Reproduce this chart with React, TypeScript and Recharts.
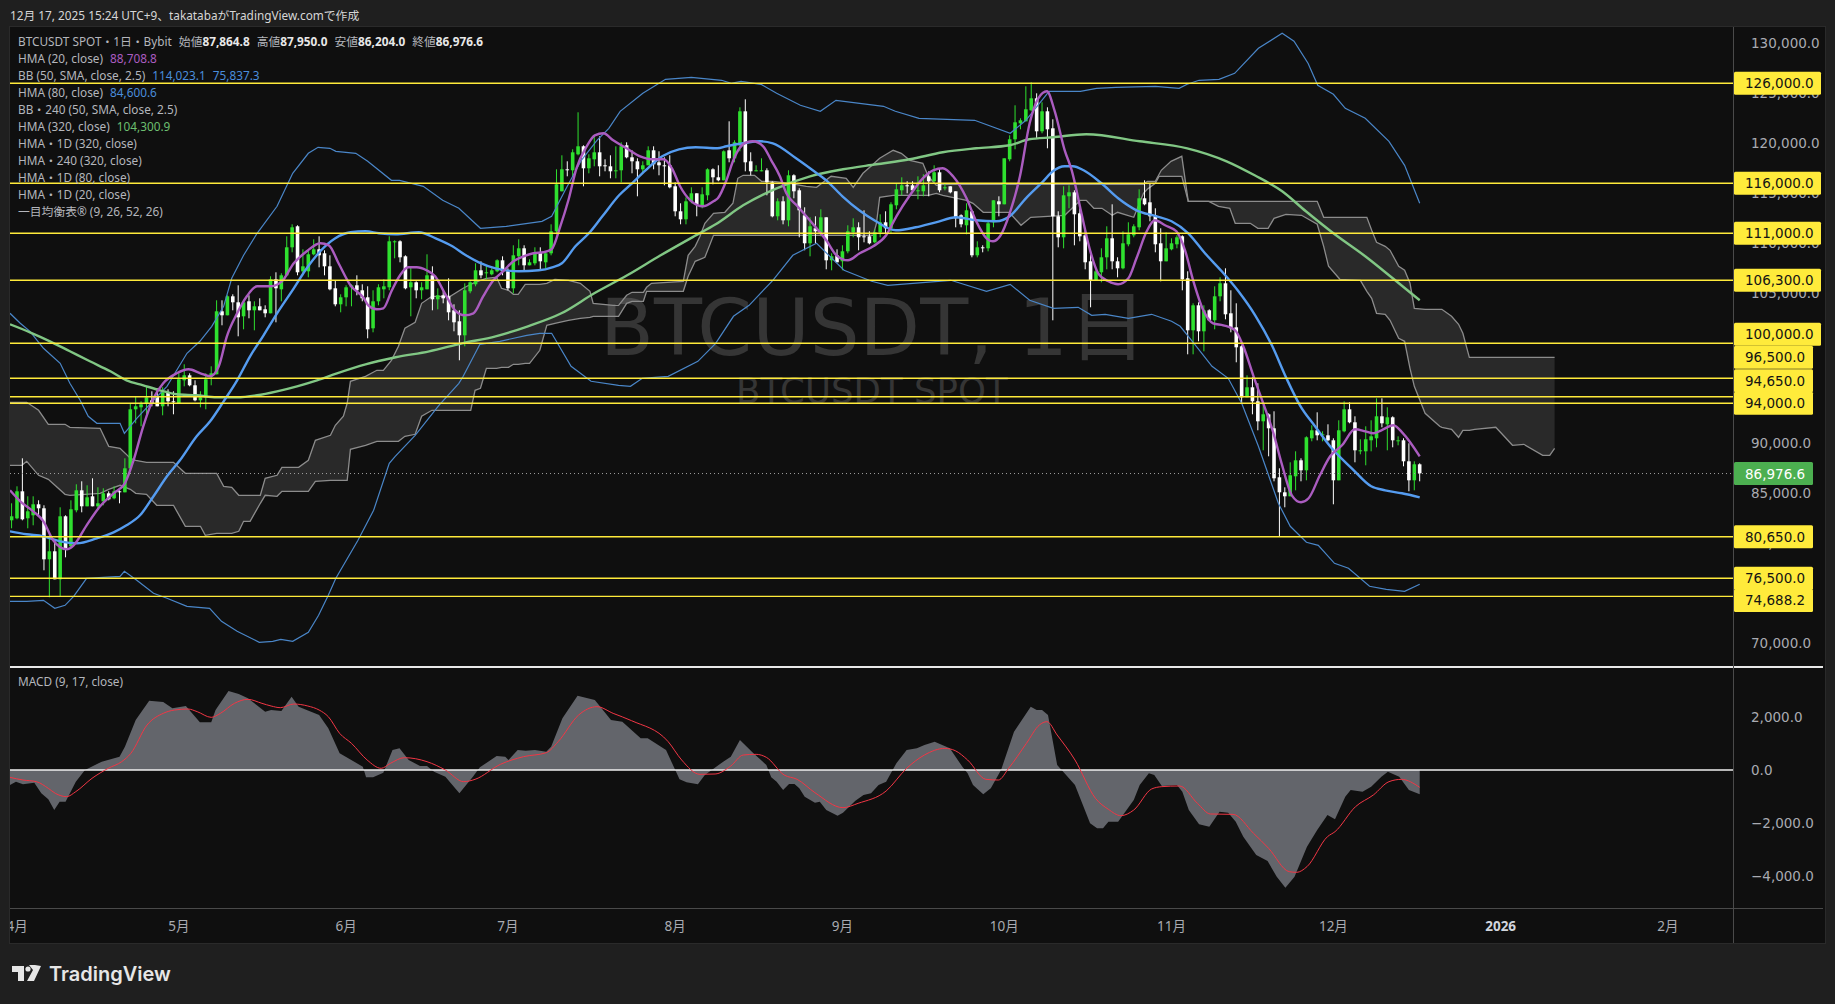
import { Area, Bar, ComposedChart, Line, ReferenceLine, XAxis, YAxis } from "recharts"

// candles in thousands of USDT, first candle is Mar 31 (day -1, Apr 1 = day 0)
const firstDay = -1
const opens = [82.3,
  82.5, 85.2, 82.5, 82.8, 83.9, 83.5, 78.4, 79.2, 76.4, 82.7,
  79.7, 83.3, 85.3, 83.7, 84.7, 83.7, 84.2, 85.0, 84.5, 85.2,
  85.1, 87.5, 93.4, 93.6, 94.0, 94.3, 94.7, 93.7, 95.1, 94.2,
  94.0, 96.3, 96.8, 95.8, 94.3, 94.6, 96.8, 96.9, 103.2, 102.8,
  104.7, 104.1, 102.7, 104.2, 103.3, 103.7, 103.4, 103.0, 106.4, 105.4,
  106.8, 109.6, 111.7, 107.2, 107.2, 108.9, 109.4, 109.0, 107.7, 105.5,
  103.9, 104.6, 105.6, 105.8, 105.3, 104.6, 101.5, 104.2, 105.4, 105.6,
  110.1, 110.2, 108.7, 105.6, 106.1, 105.3, 105.4, 106.8, 104.4, 104.8,
  104.7, 103.3, 102.2, 100.8, 105.2, 105.9, 107.3, 107.0, 106.9, 107.2,
  108.3, 107.2, 105.5, 108.7, 109.5, 107.8, 108.0, 109.1, 108.1, 109.0,
  111.2, 115.2, 117.4, 117.3, 118.9, 119.7, 117.5, 118.4, 119.1, 117.8,
  117.7, 117.2, 117.3, 119.8, 118.6, 118.2, 117.4, 117.8, 119.3, 118.1,
  117.8, 117.8, 115.7, 113.2, 112.4, 114.2, 115.0, 113.8, 114.8, 117.4,
  116.6, 116.3, 119.3, 118.5, 119.8, 123.2, 118.2, 117.2, 117.3, 117.3,
  116.1, 112.7, 114.2, 112.3, 116.8, 115.3, 112.8, 110.0, 111.5, 111.1,
  112.6, 108.3, 108.8, 108.2, 109.2, 111.1, 111.6, 110.7, 110.7, 110.1,
  111.1, 112.1, 111.5, 113.8, 115.3, 115.8, 115.8, 115.2, 115.2, 116.7,
  116.2, 117.1, 115.5, 115.7, 115.2, 112.8, 111.8, 113.2, 108.8, 109.6,
  109.5, 112.1, 114.2, 113.9, 118.4, 120.4, 122.0, 122.2, 123.3, 124.5,
  121.2, 123.2, 121.5, 112.7, 110.6, 114.7, 115.1, 113.0, 110.8, 108.2,
  106.3, 107.1, 108.6, 110.5, 108.2, 107.5, 109.9, 110.8, 111.6, 114.5,
  114.1, 112.8, 110.0, 108.2, 109.4, 109.9, 110.7, 106.5, 101.3, 103.8,
  101.2, 103.3, 102.3, 104.7, 106.0, 103.0, 101.6, 99.7, 94.6, 95.6,
  94.2, 92.2, 92.9, 91.5, 86.6, 85.1, 84.7, 86.7, 88.3, 87.3,
  90.5, 91.3, 90.9, 90.8, 90.3, 86.3, 91.2, 93.4, 92.1, 89.3,
  89.2, 90.3, 90.5, 92.7, 91.9, 92.6, 90.3, 90.3, 88.2, 86.3,
  87.9]
const closes = [82.7,
  85.2, 82.4, 83.2, 83.9, 83.5, 78.4, 79.2, 76.4, 82.7, 79.5,
  83.4, 85.3, 83.7, 84.6, 83.7, 84.0, 85.0, 84.4, 85.2, 85.1,
  87.5, 93.4, 93.7, 93.9, 94.6, 94.0, 93.7, 95.1, 94.2, 94.1,
  96.4, 96.8, 95.8, 94.3, 94.6, 96.4, 97.0, 103.2, 102.8, 104.7,
  104.1, 102.6, 104.1, 103.3, 103.7, 103.3, 103.0, 106.4, 105.5, 106.8,
  109.6, 111.6, 107.1, 107.7, 108.9, 109.4, 108.8, 107.7, 105.4, 103.9,
  104.6, 105.6, 105.8, 105.3, 104.5, 101.4, 104.2, 105.6, 105.7, 110.2,
  110.2, 108.6, 105.5, 106.1, 105.3, 105.6, 106.8, 104.4, 104.8, 104.5,
  103.1, 102.1, 100.8, 105.3, 106.1, 107.3, 106.8, 107.1, 107.3, 108.3,
  107.2, 105.5, 108.8, 109.5, 107.8, 108.1, 109.0, 108.2, 109.0, 111.2,
  115.9, 117.4, 117.3, 119.1, 119.7, 117.5, 118.5, 119.1, 117.7, 117.7,
  117.2, 117.3, 119.7, 118.6, 118.2, 117.4, 117.8, 119.3, 117.9, 117.8,
  117.7, 115.6, 113.2, 112.4, 114.2, 115.0, 113.9, 114.9, 117.4, 116.6,
  116.3, 119.2, 118.5, 120.1, 123.2, 118.1, 117.2, 117.3, 117.3, 116.1,
  112.7, 114.2, 112.3, 116.8, 115.2, 113.3, 110.0, 111.7, 111.2, 112.6,
  108.3, 108.7, 108.1, 109.2, 111.2, 111.6, 110.6, 110.6, 110.0, 111.1,
  112.1, 111.5, 113.9, 115.4, 115.8, 115.7, 115.3, 115.3, 115.8, 116.2,
  117.1, 115.3, 115.6, 115.1, 112.5, 111.9, 113.3, 108.8, 109.6, 109.5,
  112.0, 114.3, 113.9, 118.5, 120.4, 122.1, 122.3, 123.4, 124.5, 121.2,
  123.2, 121.4, 112.7, 110.6, 114.8, 115.1, 112.9, 110.7, 108.1, 106.3,
  107.2, 108.6, 110.5, 108.2, 107.5, 110.0, 110.9, 111.7, 114.5, 113.9,
  112.7, 109.9, 108.2, 109.5, 110.0, 110.6, 106.4, 101.3, 103.8, 101.2,
  103.3, 102.3, 104.7, 106.0, 102.9, 101.5, 99.6, 94.6, 95.6, 94.2,
  92.2, 92.9, 91.5, 86.5, 85.1, 84.7, 86.8, 88.3, 87.3, 90.6,
  91.3, 90.8, 90.9, 90.3, 86.3, 91.3, 93.4, 92.1, 89.3, 89.3,
  90.4, 90.7, 92.7, 92.0, 92.6, 90.3, 90.3, 88.2, 86.3, 87.9,
  87.0]
const highs = [84.0,
  85.7, 88.5, 84.7, 84.7, 84.3, 83.8, 80.8, 80.3, 83.6, 82.8,
  84.3, 85.9, 86.2, 85.8, 86.5, 85.6, 85.5, 85.2, 85.7, 85.3,
  88.5, 94.0, 94.7, 94.2, 95.7, 95.2, 95.5, 95.6, 95.4, 95.2,
  97.0, 97.9, 97.0, 96.3, 95.2, 97.0, 97.7, 104.3, 104.3, 104.8,
  104.9, 105.8, 104.3, 104.8, 104.2, 104.5, 103.8, 106.7, 107.1, 107.0,
  110.7, 111.9, 111.8, 109.4, 109.3, 110.4, 110.7, 109.3, 108.8, 106.3,
  104.9, 105.8, 105.9, 106.8, 105.9, 105.7, 105.3, 105.9, 106.4, 110.7,
  110.3, 110.3, 108.8, 107.6, 106.2, 106.1, 108.9, 107.7, 105.5, 105.2,
  106.5, 103.9, 103.3, 106.0, 106.2, 108.0, 108.2, 107.7, 107.5, 108.4,
  108.7, 107.5, 109.8, 110.4, 109.8, 108.4, 109.6, 109.6, 109.2, 111.9,
  117.4, 118.8, 118.2, 119.4, 123.1, 119.8, 118.9, 120.7, 120.7, 118.4,
  118.8, 119.7, 120.1, 120.1, 119.3, 118.5, 118.2, 119.7, 119.7, 119.2,
  118.6, 118.8, 116.1, 114.0, 114.6, 115.6, 115.0, 115.6, 117.5, 117.5,
  117.8, 119.3, 122.2, 120.3, 123.6, 124.4, 119.1, 117.8, 118.5, 117.5,
  116.2, 114.5, 114.7, 117.3, 116.9, 115.5, 113.6, 112.6, 112.7, 113.4,
  112.6, 109.0, 109.4, 109.8, 111.8, 112.5, 112.1, 113.3, 111.2, 111.4,
  112.9, 113.2, 114.1, 116.0, 116.6, 116.2, 116.2, 116.7, 116.9, 117.2,
  117.8, 117.5, 116.0, 115.7, 115.2, 112.9, 114.0, 113.3, 110.2, 109.8,
  112.3, 114.3, 114.7, 118.5, 120.8, 123.8, 122.5, 125.7, 126.1, 125.0,
  124.1, 123.6, 122.4, 113.2, 115.7, 115.8, 115.3, 113.5, 111.3, 109.2,
  107.4, 109.5, 111.7, 113.9, 108.6, 111.2, 112.1, 111.9, 115.4, 116.3,
  116.0, 113.5, 111.5, 111.1, 110.5, 110.8, 110.8, 107.2, 104.0, 104.1,
  103.8, 103.4, 105.7, 106.6, 107.5, 105.3, 104.0, 99.8, 96.8, 96.6,
  96.0, 93.8, 93.0, 93.2, 87.5, 85.6, 88.1, 89.2, 88.5, 90.7,
  91.8, 93.1, 91.2, 91.9, 90.5, 92.3, 94.2, 94.1, 92.7, 90.4,
  91.7, 92.3, 94.5, 94.5, 93.6, 92.7, 90.7, 90.5, 90.0, 88.2,
  88.0]
const lows = [81.5,
  82.4, 82.3, 81.5, 81.8, 82.8, 77.3, 74.6, 76.4, 74.7, 78.6,
  79.5, 83.1, 83.1, 83.7, 83.7, 83.5, 83.8, 84.3, 84.4, 84.0,
  85.1, 87.3, 92.0, 91.7, 92.9, 93.7, 93.7, 92.8, 93.7, 92.9,
  94.0, 95.7, 95.7, 94.2, 93.6, 93.4, 95.8, 96.9, 101.8, 102.8,
  103.3, 100.7, 101.4, 102.5, 101.3, 103.3, 102.6, 103.0, 102.1, 104.2,
  106.7, 109.1, 106.8, 106.8, 106.6, 108.8, 107.6, 106.8, 105.3, 103.7,
  103.1, 103.7, 103.7, 104.8, 104.2, 100.5, 101.1, 103.8, 104.5, 105.3,
  108.5, 108.1, 105.4, 102.7, 104.5, 104.4, 105.4, 103.3, 103.4, 104.0,
  102.3, 101.2, 98.3, 99.7, 105.0, 105.7, 106.5, 106.4, 106.8, 107.1,
  106.8, 105.3, 105.0, 107.8, 107.3, 107.8, 107.8, 107.4, 107.5, 108.8,
  110.9, 115.2, 116.7, 116.7, 118.8, 115.7, 117.0, 117.7, 116.7, 117.2,
  116.5, 116.5, 116.1, 118.5, 117.0, 114.7, 117.0, 117.8, 117.4, 116.8,
  115.8, 115.5, 112.7, 111.9, 111.9, 114.0, 112.7, 113.5, 114.3, 115.9,
  116.2, 116.3, 118.1, 118.1, 119.2, 117.2, 116.8, 117.2, 117.2, 114.8,
  112.6, 112.3, 111.9, 111.7, 114.5, 110.6, 109.3, 108.7, 110.0, 110.7,
  107.4, 107.3, 108.1, 107.3, 109.0, 110.6, 109.3, 110.1, 109.9, 110.0,
  110.6, 111.0, 111.0, 113.4, 114.8, 115.0, 115.2, 114.4, 114.7, 114.7,
  116.1, 115.1, 115.3, 115.0, 111.6, 111.6, 110.9, 108.6, 108.6, 109.1,
  109.2, 111.6, 112.7, 113.9, 118.2, 119.4, 121.4, 122.2, 123.2, 120.5,
  121.0, 119.5, 102.3, 109.6, 109.5, 113.5, 109.8, 110.2, 107.4, 103.6,
  106.3, 106.1, 107.4, 107.4, 106.6, 107.4, 109.7, 110.6, 111.3, 113.8,
  112.2, 109.1, 106.2, 108.2, 109.3, 109.5, 105.3, 98.9, 98.9, 100.2,
  99.2, 102.2, 101.4, 104.2, 102.4, 101.1, 98.1, 94.0, 94.6, 92.9,
  91.3, 89.3, 88.7, 86.2, 80.7, 83.6, 84.7, 85.3, 86.2, 86.3,
  90.2, 90.3, 90.2, 90.2, 83.9, 86.3, 91.1, 92.0, 88.1, 88.9,
  87.8, 89.2, 89.6, 91.6, 89.3, 89.6, 89.8, 87.7, 85.2, 85.3,
  86.2]

// indicators: [day, value in thousands]
const hma20Points = [
  [-1.3,85.3],[0.6,84.2],[3,83.2],[4.9,82.2],[6.7,80.3],[9.2,79.4],[10.5,79.8],[12.9,81.8],[15.4,83.7],[17.9,85],[20,86],
  [21.6,88.3],[23.4,91.7],[25.3,94.5],[27.1,96],[29.6,97],[31.8,97.4],[34,97],[35.8,96.7],[37.4,97.7],[38.9,100.7],[40.8,103],
  [42.6,104.7],[44.5,105.7],[46.9,105.7],[49.1,106.2],[51.3,108],[53.7,109.2],[56.2,110],[57.8,109.8],[59.6,108],[61.8,105.8],
  [64.3,104.5],[65.1,103.8],[66.7,103.4],[67.9,103.5],[69.4,105.2],[71,106.8],[72.5,107.6],[74.1,107.6],[75.9,107.3],[77.5,106.7],
  [79.3,105],[81.2,103.3],[83,102.8],[84.6,103],[86.4,104.7],[88.3,106.3],[90.1,107.2],[92,108.2],[93.9,108.7],[95.7,109],
  [97.6,109.1],[99.1,109.4],[100.7,111.7],[102.2,114.3],[103.7,117.5],[105.6,119.7],[107.1,120.8],[108.7,121],[110.5,120.3],[113,119.5],
  [115.5,118.7],[117.9,118.4],[119.8,118.4],[121.4,117.5],[122.9,115.7],[124.8,114.3],[127.2,113.7],[129.1,114.2],[129.9,114.5],[131.5,116.3],
  [132.7,118.2],[133.9,119.5],[135.2,120.1],[136.4,120.2],[138.3,119.7],[139.8,118.3],[141.4,116.7],[142.6,115],[144.5,113.8],[146.3,112.7],
  [148.2,111.5],[150,110.3],[151.9,108.8],[154,108.3],[156.2,109],[158.7,109.7],[161.1,110.8],[163,112.7],[165.5,114.8],[167.9,116.5],
  [169.8,117.3],[171.6,117.5],[173.5,116.7],[176,114.5],[177.8,112.2],[179.7,110.5],[180.9,110.2],[182.2,110.7],[184,113],[185.9,116.7],
  [187.7,122],[189.3,124.5],[190.9,125.2],[192.3,123.3],[194.2,119.3],[195.5,117.3],[197.3,113],[198.9,109.3],[200.4,107],[202.3,106.2],
  [204.1,105.9],[206,106.5],[207.5,108.5],[209.4,111.2],[210.9,112.3],[212.8,111.8],[214.9,111.2],[216.5,109.3],[218,106.3],[219.9,103.3],
  [221.7,102],[223.6,101.8],[225.8,101.3],[227.3,99.7],[229.2,96.7],[231,94],[232.9,91],[234.4,88],[236.3,84.8],[238,84.1],
  [239.4,84.5],[241.5,86.8],[243.4,88.7],[245.6,89.8],[248,91.4],[249.9,91.2],[251.4,91],[252.9,91.3],[255.1,91.8],[256.9,91],[260,88.7],
]
const hma80Points = [
  [-1.3,81.2],[1.8,80.9],[4.9,80.7],[8,80.2],[11.1,80],[14.8,80.5],[17.9,81.1],[20.3,81.8],[22.8,82.8],[25.3,84.7],[27.8,86.7],
  [30.2,88.3],[33.3,90.7],[35.8,92.2],[38.3,94.2],[40.8,96.3],[43.2,98.7],[45.7,100.8],[48.2,103],[51.3,105.5],[53.7,107.5],
  [56.2,109.2],[59,110.5],[61.8,111.1],[64.6,111.2],[67.1,111],[70.2,110.9],[74.5,111.1],[77.6,110.5],[80.7,109.7],[83.2,108.8],
  [85.6,108.1],[88.7,107.5],[93,107.2],[96.7,107.3],[99.2,107.6],[101,108],[103.5,109.7],[106,111],[108.5,112.7],[111.6,114.8],
  [114,116],[116.5,117.3],[119.6,118.7],[122.7,119.4],[125.8,119.6],[129.8,119.5],[131.5,119.7],[134.6,120],[137.7,120.2],[140.1,120],
  [144.4,118.5],[147.5,117.3],[150,116.3],[153,114.7],[156.1,113.3],[159.2,112.2],[162.9,111.3],[166.6,111.6],[170.3,112.1],[174.1,112.6],
  [177.8,112.3],[181.5,112.2],[184,112.7],[187,114.5],[190.2,116.2],[192,117.2],[194.2,117.7],[195.7,117.7],[197.7,117.3],[201,116],
  [204.1,114.5],[207.5,113.3],[211.2,112.7],[214,112.2],[217.1,111],[220.2,109],[223.3,107.2],[226.4,105.2],[229.5,102.8],[232.6,99.8],
  [235.3,96.5],[237.8,93.8],[240.6,91.7],[243.7,89.5],[247.4,87.5],[251,85.7],[253.6,85.3],[256.7,85],[260,84.6],
]
const hma320Points = [
  [-1.3,101.9],[2.4,101.1],[6.1,100.2],[9.8,99.2],[13.5,98.2],[17.3,97.2],[20.3,96.3],[23.4,95.8],[26.5,95.3],[29.6,94.9],[33.3,94.8],
  [37,94.6],[40.8,94.6],[44.5,94.8],[48.2,95.2],[51.9,95.7],[55.6,96.3],[59.3,97],[64.6,97.9],[70.2,98.6],[76.4,99.2],[82.5,100],
  [88.7,100.7],[94.7,101.7],[100.9,103],[107,105],[113.1,106.8],[119.3,108.8],[125.5,110.7],[129.5,111.9],[134.6,113.8],[140.8,115.5],
  [147,116.7],[153.1,117.4],[159.3,117.9],[165.5,118.4],[171.6,119.1],[177.8,119.5],[184,119.8],[187.6,120.4],[192,120.6],[198.2,120.9],
  [208.1,120.2],[216.9,119.5],[224.2,118.2],[229.4,116.8],[234.5,115.2],[238.9,113.2],[244,111],[249.9,108.7],[255,106.5],[260,104.3],
]
const bbUpperPoints = [
  [-1.3,103],[0.6,102],[2.4,101.2],[4.9,99.5],[8,98],[9.8,96],[11.7,94.3],[13.2,92.7],[14.8,92],[19.1,92],[19.9,91],[22.2,92.5],
  [25.3,94.3],[27.8,95.7],[29.6,97.3],[31.5,99],[33.9,100.2],[36.1,101.7],[38.3,103.7],[39.8,106.5],[42,108.8],[44.5,111],[48.2,113.7],
  [51.1,117],[54,119],[55.8,119.6],[58,119.5],[59.1,119.2],[62.8,119],[65,118.2],[69.4,116.3],[70.9,116.3],[75.3,115.7],[78.9,114.3],
  [81.9,113.5],[85.9,111.5],[90.7,111.7],[97.3,112.2],[99.1,112.7],[101.6,115.3],[104.6,118.3],[107.5,120.3],[109.7,121.5],[111.8,123.2],
  [116,125],[120.2,126.4],[125,126.6],[130.6,126.3],[132.4,126],[134.2,126.2],[137.9,125.9],[140.8,125],[145.2,123.8],[148.9,123.2],
  [151.8,124.3],[160.6,123.7],[162.8,123.2],[167.2,122.5],[177.5,122.3],[184.1,121],[187,122.3],[191.3,125.2],[197.1,125.2],[200.1,125.5],
  [203.7,125.6],[211,125.7],[215.4,125.5],[216.9,125.9],[219.1,126.3],[222.8,126.4],[225.7,127],[230.1,129.5],[234.5,131],[236.7,130.2],
  [239.3,128],[241.1,125.8],[244,124.9],[246.2,123.5],[249.9,122.5],[254.3,120.2],[257.2,117.8],[260,114],
]
const bbLowerPoints = [
  [-1.3,74.2],[1.8,74.2],[4.9,74.3],[7,73.5],[8.9,73.8],[10.5,74.7],[12.9,76.5],[19.1,76.7],[19.9,77.2],[22.2,76.3],[25.3,75],[27.8,74.5],
  [31.5,73.7],[35.7,73.5],[37.9,72.2],[40.8,71.2],[44.9,70.1],[47.4,70.2],[48.9,70.4],[51.1,70.2],[54,71.1],[55.9,72.8],[57.7,74.8],
  [59.1,76.5],[63.2,80.3],[66.1,83.3],[69,88],[70.1,88.7],[73.8,90.8],[78.2,93.8],[81.9,96],[82.7,96.7],[85.8,99.9],[89.5,100.2],
  [94.5,100.8],[96.9,101],[99.1,101],[102.7,97.7],[106.4,96.2],[111.5,95.8],[113.7,95.7],[115.9,96.5],[120.7,96.7],[126.2,98.2],[129.5,100],
  [132.8,102.7],[135.7,103.8],[140.1,106.3],[143.8,108.8],[148.2,110],[153.3,107.3],[158.4,106.2],[161.4,105.8],[173.1,106.3],[179.7,105.2],
  [184.1,105.9],[187.7,104.3],[192.1,103.5],[196.7,103.6],[199.2,102.8],[201.7,102.9],[206,102.5],[210.3,102.9],[214,102.2],[215.6,101.7],
  [218.3,99.9],[221.5,97.7],[224.5,96.5],[227,94],[230.1,89.7],[233.8,84],[236,81.7],[239,80.1],[241.2,79.8],[244.2,78],[246.8,77.5],
  [250.7,75.7],[253.8,75.4],[257.2,75.2],[260,75.9],
]
// cloud: [day, upper edge, lower edge]
const cloudPoints = [
  [-1.3,94.1,87.8],[0.9,94.1,87.8],[1.8,94.1,88.2],[4,93.3,86.8],[5.8,91.9,86.4],[8.9,91.9,84.9],[9.8,91.6,84.8],[15.4,91.5,85],[17,89.7,85.4],
  [19.1,89.5,85.8],[21,88.5,85.4],[22,88.3,85],[24,88.1,84.9],[25.9,88.1,83.8],[29,88.1,83.8],[31.2,87,81.7],[34,87,81.7],[34.9,87,80.8],
  [37,87,81],[38.3,85.7,81],[39.8,85.6,81],[41.1,84.8,81.2],[42,84.8,82.2],[43.2,84.8,82.2],[45.1,84.8,84],[46,86.5,84.8],[48.2,86.8,84.7],
  [49.1,87.6,85.2],[52.2,87.6,85.2],[54,88.3,85.2],[55.3,90.3,86.2],[58.1,90.8,86.3],[59,91.8,86.3],[60.5,92.7,86.3],[61.2,94,86.3],[61.8,96.2,89.4],
  [64.6,96.7,89.8],[66.7,97.3,90.2],[67.9,97.3,90.2],[69.4,98.3,90.2],[70.7,99.7,90.2],[71.9,101.5,90.7],[73.8,102.1,90.9],[75,104,92.7],
  [76.9,104.7,93.3],[80.3,104.7,93.3],[82.7,105.5,93.3],[84.1,105.9,93.3],[84.9,106.1,95.3],[85.9,106.3,95.5],[87,106.5,97.5],[88.9,106.6,97.5],
  [89.8,105.5,97.6],[91.1,105.3,97.6],[92,104.9,97.9],[92.9,104.9,97.9],[94.2,105.9,98],[95,105.9,98],[96.9,105.9,99.3],[98.2,106,101.8],
  [99.7,106.4,102],[102.2,106.3,102.3],[104.4,106,102.5],[106.2,105.2,102.6],[106.8,104,102.7],[110.5,103.8,102.7],[111.5,103.8,102.7],[113,104.8,104],
  [114,105.1,104.2],[116.1,105.1,104.2],[116.7,105.6,105.2],[117.6,106,105.2],[123.5,106.2,105.2],[124.4,108.8,106.7],[125.7,109.7,108.2],
  [126.6,110.7,108.4],[127.5,112,108.6],[129.1,113,110.8],[131.2,113.1,110.8],[132.7,114,110.8],[133.6,116.5,110.8],[134.6,116.8,110.8],
  [136.7,116.8,110.8],[138,116.2,110.8],[140.1,116.2,110.8],[143.2,116,110.8],[146.3,115.7,110.8],[148.2,115.6,110.8],[150.9,116.7,110.8],
  [153.7,116.5,110.8],[155,115.6,110.8],[156.8,117,110.8],[158.7,117.9,110.8],[159.3,118.2,112],[159.9,118.5,114.6],[162.4,119.3,114.8],
  [163.9,119,114.8],[165.5,118.3,114.8],[167.9,118,114.8],[168.9,116.7,114.8],[170.4,115.8,115],[171.6,115.9,114.8],[176,115.9,114.3],
  [177.2,115.9,114],[179.1,115.9,113.1],[183.9,115.9,113.1],[186.1,115.9,111.8],[187.9,115.9,112.6],[194.2,115.9,112.8],[197.1,115.9,114.3],
  [198.2,115.9,114.3],[199.6,115.9,113.5],[201.1,115.9,113.5],[203,115.9,112.8],[204,115.9,113.1],[207,115.9,112.6],[208.8,115.9,115],
  [209.5,116.2,115.4],[211,116.2,116],[211.7,116.9,116.7],[212.1,117.3,116.7],[213.9,118.2,116.7],[215.9,118.7,116.7],[217.1,114.2,114.2],
  [220.9,114.2,114.2],[222.7,114.2,113.7],[224.8,114.2,113.5],[225.8,114.2,112],[228.6,114.2,112],[230,114.2,111.5],[231.9,114.2,111.5],
  [233,114.2,112.5],[235.2,114.2,112.9],[238.1,114.2,112.8],[241,114.2,111.9],[242.2,112.6,109.7],[243.1,112.6,107.7],[245.2,112.6,106.4],
  [249,112.6,106.3],[250.2,112.6,105.2],[251.1,111.3,104.5],[252,110.1,103],[253.6,109.7,102.9],[254.5,109.3,102.3],[256.1,107.7,100.5],
  [257.2,107.3,100.2],[258.2,106,97.5],[259,103.5,95.7],[261,103.4,93],[263.7,103.4,91.7],[264.1,103.4,91.6],[265.9,102.7,91.4],[267.2,101.9,90.6],
  [268,101,91.3],[268.5,100,91.3],[269.2,98.6,91.3],[270.2,98.6,91.4],[274.1,98.6,91.6],[277.2,98.6,89.8],[279.3,98.6,89.9],[282.8,98.6,88.8],
  [284.1,98.6,88.8],[285,98.6,89.5],
]
const macdPoints = [
  [-1.3,-564],[-0.2,-439],[1.1,-539],[3.2,-476],[4.5,-877],[5.8,-1103],[6.9,-1504],[7.9,-1190],[9,-1190],[10.9,-439],[12.6,0],[15.7,313],[19,501],
  [20,877],[22,1880],[24.5,2606],[27.1,2556],[28.8,2318],[31.3,2406],[33.9,1792],[36,1792],[36.8,2256],[39.2,2970],[41.1,2857],[42.8,2694],[46,2193],
  [47.1,2255],[49,2218],[50.9,2756],[52.2,2380],[56,2067],[57.7,1566],[59.8,626],[64.1,125],[64.7,-276],[66,-276],[67.9,-100],[69.6,752],[70.9,814],
  [72.6,376],[74.7,150],[76,150],[77.3,-63],[79.4,-251],[82,-877],[84.5,-251],[85.8,100],[88.9,526],[90.5,501],[91.1,376],[92.8,752],[94.3,727],
  [96,752],[98.1,689],[99,877],[101.1,1942],[103.9,2794],[107.1,2631],[110.1,1880],[112.2,1817],[115.6,1190],[116.9,1190],[120.3,752],[122.8,-351],
  [124.1,-464],[126.2,-539],[127.5,-188],[130.9,313],[132.3,501],[134,1128],[136.5,626],[138.9,188],[139.8,-276],[140.8,-439],[142,-752],[143.1,-526],
  [144.1,-526],[145,-689],[146,-1002],[147.9,-1228],[148.8,-1190],[150,-1504],[152.1,-1717],[153.1,-1604],[155.4,-1153],[156.9,-940],[158.3,-877],
  [159.7,-564],[161.1,-439],[163,250],[164.9,752],[166.8,814],[168.2,940],[170.1,1065],[172.9,814],[175.3,100],[176.2,-125],[177.2,-564],[179.1,-915],
  [180.5,-689],[182.4,0],[184.8,1441],[187.9,2381],[189,2255],[190,2255],[191.1,2067],[192.8,188],[196.1,-564],[198.9,-2005],[200.2,-2193],[201.3,-2193],
  [202.3,-1942],[204.1,-1942],[207,-1128],[208.1,-564],[209.8,-125],[210.8,-188],[212.2,-601],[215,-564],[216,-815],[217.2,-1504],[219.1,-2042],[221,-2130],
  [222.9,-1566],[224.5,-1604],[225.9,-1942],[227.3,-2506],[229.7,-3195],[231.8,-3421],[233.5,-4010],[235.1,-4424],[236.8,-4010],[239.1,-2882],[241,-2255],
  [242.9,-1692],[244.3,-1855],[246.2,-1002],[247.2,-752],[249.4,-814],[251,-626],[252.9,-251],[254.1,-63],[256.2,-251],[258,-752],[260,-915],
]
const signalPoints = [
  [-1.3,-276],[1.1,-376],[3.6,-439],[5.8,-689],[7.1,-877],[9.2,-1002],[10.9,-814],[13.9,-313],[16.9,63],[19.4,313],[21.1,626],[24.1,1691],[27.1,2130],
  [29.2,2255],[31.7,2293],[33.4,2193],[36,1980],[37.7,2130],[40.3,2506],[42.8,2657],[45.4,2506],[47.1,2406],[48.8,2343],[51.3,2481],[53.9,2406],[56,2255],
  [57.7,2005],[59.8,1378],[62,1002],[64.9,376],[67.5,63],[69.2,250],[71.8,463],[76,313],[79.4,0],[82.8,-439],[84.9,-351],[89.6,213],[93.9,501],[98.1,651],
  [100.3,1065],[104.1,2067],[107.5,2381],[110.5,2130],[113.9,1855],[120.7,1065],[123.2,376],[126.6,-163],[129.4,-150],[132.3,150],[134.6,564],[137,589],
  [138.9,476],[142.2,-188],[144.6,-351],[147.9,-852],[153.1,-1416],[155.9,-1253],[161.1,-789],[164.9,63],[168.2,564],[172,814],[173.9,727],[176.2,376],
  [179.6,-351],[181.9,-376],[183.8,63],[187.1,1002],[189.5,1692],[190.9,1817],[192.8,1316],[196.1,376],[199.9,-1065],[202.3,-1479],[204.6,-1717],[207,-1504],
  [210.3,-714],[212.2,-626],[215.5,-601],[218.8,-1253],[221.2,-1654],[225.4,-1667],[229.2,-2381],[232,-2945],[235.8,-3822],[237.2,-3847],[239.1,-3634],
  [242.9,-2506],[244.3,-2318],[248.1,-1378],[251.4,-940],[254.3,-439],[256.6,-351],[260,-651],
]

// 75,000 / 95,000 / 100,000 sit fully behind the yellow boxes on the original
const priceTicks = [70000, 80000, 85000, 90000, 105000, 110000, 115000, 120000, 125000, 130000]
const macdTicks = [2000, 0, -2000, -4000]
const levels = [126000, 116000, 111000, 106300, 100000, 96500, 94650, 94000, 80650, 76500, 74688.2]
const lastClose = 86976.6
const monthDays = [0, 30, 61, 91, 122, 153, 183, 214, 244, 275, 306]
const monthLabels = ["4月", "5月", "6月", "7月", "8月", "9月", "10月", "11月", "12月", "2026", "2月"]

const legendRows: [string, string[], string?][] = [
  ["HMA (20, close)", ["88,708.8"], "#ab5cc0"],
  ["BB (50, SMA, close, 2.5)", ["114,023.1", "75,837.3"], "#4a8ddc"],
  ["HMA (80, close)", ["84,600.6"], "#4a8ddc"],
  ["BB・240 (50, SMA, close, 2.5)", []],
  ["HMA (320, close)", ["104,300.9"], "#6cbf70"],
  ["HMA・1D (320, close)", []],
  ["HMA・240 (320, close)", []],
  ["HMA・1D (80, close)", []],
  ["HMA・1D (20, close)", []],
  ["一目均衡表® (9, 26, 52, 26)", []],
]
const ohlcLabels = [["始値", "87,864.8"], ["高値", "87,950.0"], ["安値", "86,204.0"], ["終値", "86,976.6"]]

// label boxes get pushed apart on the price scale, so they sit off their line a bit
const labelShift: Record<number, number> = { 100000: -9, 96500: -21, 94650: -16, 94000: 0, 74688.2: 4 }

const candles = opens.map((open, i) => ({
  day: firstDay + i,
  open: open * 1000,
  close: closes[i] * 1000,
  high: highs[i] * 1000,
  low: lows[i] * 1000,
  range: [lows[i] * 1000, highs[i] * 1000],
}))
const toSeries = (points: number[][]) => points.map(([day, value]) => ({ day, value: value * 1000 }))
const cloud = cloudPoints.map(([day, top, bottom]) => ({ day, band: [bottom * 1000, top * 1000] }))
const macd = macdPoints.map(([day, value]) => ({ day, value }))
const signal = signalPoints.map(([day, value]) => ({ day, value }))

const FONT = "'DejaVu Sans', 'Noto Sans CJK JP', sans-serif"
const UI_FONT = "'Noto Sans', 'Noto Sans CJK JP', sans-serif"
const X_DOMAIN = [-1.3, 318.07]
const PRICE_DOMAIN = [67730, 131630]
const AXIS_COLOR = "#a9abb2"

const fmt = (v: number) => v.toLocaleString("en-US", { minimumFractionDigits: 1, maximumFractionDigits: 1 })
const fmtSigned = (v: number) => (v < 0 ? "\u2212" + fmt(-v) : fmt(v))

const Candle = (props: any) => {
  const { x, y, width, height, payload } = props
  const cx = x + width / 2
  const perUnit = height / (payload.high - payload.low || 1)
  const top = y + (payload.high - Math.max(payload.open, payload.close)) * perUnit
  const bodyH = Math.max(Math.abs(payload.open - payload.close) * perUnit, 1)
  const color = payload.close >= payload.open ? "#2fe02f" : "#ffffff"
  return (
    <g>
      <line x1={cx} x2={cx} y1={y} y2={y + height} stroke={color} strokeWidth={1} />
      <rect x={cx - 1.8} y={top} width={3.6} height={bodyH} fill={color} />
    </g>
  )
}

const priceLabel = (text: string, fill: string, color: string, shift = 0) => (props: any) => {
  const { x, y, width } = props.viewBox
  const boxW = text.length > 8 ? 87 : 79
  return (
    <g>
      <rect x={x + width + 1} y={y + shift - 11.5} width={boxW} height={23} rx={1.5} fill={fill} />
      <text x={x + width + 12} y={y + shift + 5} fontSize={13.5} fontFamily={FONT} fill={color}>
        {text}
      </text>
    </g>
  )
}

const TimeTick = (props: any) => {
  const { x, y, payload } = props
  const label = monthLabels[monthDays.indexOf(payload.value)]
  const bold = label === "2026"
  return (
    <text x={x} y={y + 15} textAnchor="middle" fontSize={13.5} fontFamily={UI_FONT} fontWeight={bold ? 700 : 400} fill={bold ? "#d1d4dc" : AXIS_COLOR}>
      {label}
    </text>
  )
}

const abs = (left: number, top: number, width: number, height: number, background: string) => ({
  position: "absolute" as const, left, top, width, height, background,
})

export default function App() {
  return (
    <div style={{ position: "absolute", left: 0, top: 0, width: 1835, height: 1004, background: "#1f1f1f", overflow: "hidden", fontFamily: UI_FONT }}>
      <div style={{ position: "absolute", left: 10, top: 6, fontSize: 11.8, color: "#d6d6d6", whiteSpace: "nowrap" }}>
        12月 17, 2025 15:24 UTC+9、takatabaがTradingView.comで作成
      </div>

      {/* panel */}
      <div style={abs(9, 26, 1817, 918, "#2a2a2a")} />
      <div style={abs(10, 27, 1815, 916, "#0f0f0f")} />

      {/* watermark sits under the series */}
      <div style={{ position: "absolute", left: 600, top: 280, fontFamily: FONT, fontSize: 78.6, lineHeight: "96px", color: "#353535", whiteSpace: "nowrap" }}>BTCUSDT, 1日</div>
      <div style={{ position: "absolute", left: 736, top: 370, fontFamily: FONT, fontSize: 35.6, lineHeight: "42px", color: "#353535", whiteSpace: "nowrap" }}>BTCUSDT SPOT</div>

      <div style={{ position: "absolute", left: 10, top: 27 }}>
        <ComposedChart width={1815} height={639} data={candles} margin={{ top: 0, right: 0, bottom: 0, left: 0 }}>
          <XAxis dataKey="day" type="number" domain={X_DOMAIN} hide allowDataOverflow />
          <YAxis
            orientation="right"
            width={92}
            domain={PRICE_DOMAIN}
            ticks={priceTicks}
            allowDataOverflow
            interval={0}
            axisLine={false}
            tickLine={false}
            tickMargin={12}
            tickFormatter={fmt}
            tick={{ fontSize: 13.5, fontFamily: FONT, fill: AXIS_COLOR, textAnchor: "start" }}
          />
          <Area data={cloud} dataKey="band" type="linear" stroke="#8c8c8c" strokeWidth={1.3} fill="#ffffff" fillOpacity={0.11} dot={false} activeDot={false} isAnimationActive={false} />
          <Line data={toSeries(bbUpperPoints)} dataKey="value" stroke="#4a86c8" strokeWidth={1.2} dot={false} activeDot={false} isAnimationActive={false} />
          <Line data={toSeries(bbLowerPoints)} dataKey="value" stroke="#4a86c8" strokeWidth={1.2} dot={false} activeDot={false} isAnimationActive={false} />
          <Bar dataKey="range" barSize={3} shape={Candle} isAnimationActive={false} />
          <Line data={toSeries(hma320Points)} dataKey="value" type="monotone" stroke="#81c784" strokeWidth={2.4} dot={false} activeDot={false} isAnimationActive={false} />
          <Line data={toSeries(hma80Points)} dataKey="value" type="monotone" stroke="#559cf0" strokeWidth={2.4} dot={false} activeDot={false} isAnimationActive={false} />
          <Line data={toSeries(hma20Points)} dataKey="value" type="monotone" stroke="#ab5cc0" strokeWidth={2.4} dot={false} activeDot={false} isAnimationActive={false} />
        </ComposedChart>
      </div>

      {/* second chart on the same scale so the price boxes cover the axis ticks */}
      <div style={{ position: "absolute", left: 10, top: 27 }}>
        <ComposedChart width={1815} height={639} data={candles} margin={{ top: 0, right: 92, bottom: 0, left: 0 }}>
          <XAxis dataKey="day" type="number" domain={X_DOMAIN} hide allowDataOverflow />
          <YAxis hide domain={PRICE_DOMAIN} allowDataOverflow />
          <ReferenceLine y={lastClose} stroke="#a0a0a0" strokeDasharray="1 3" label={priceLabel(fmt(lastClose), "#4caf50", "#ffffff")} />
          {levels.map((level) => (
            <ReferenceLine key={level} y={level} stroke="#ffeb3b" strokeWidth={1.4} label={priceLabel(fmt(level), "#ffeb3b", "#131313", labelShift[level] || 0)} />
          ))}
        </ComposedChart>
      </div>

      <div style={abs(10, 666, 1813, 1.5, "#e8e8e8")} />

      <div style={{ position: "absolute", left: 10, top: 666 }}>
        <ComposedChart width={1815} height={277} data={macd} margin={{ top: 0, right: 0, bottom: 0, left: 0 }}>
          <XAxis
            dataKey="day"
            type="number"
            domain={X_DOMAIN}
            ticks={monthDays}
            interval={0}
            allowDataOverflow
            height={35}
            axisLine={false}
            tickLine={false}
            tick={<TimeTick />}
          />
          <YAxis
            orientation="right"
            width={92}
            domain={[-5188, 3910]}
            ticks={macdTicks}
            allowDataOverflow
            interval={0}
            axisLine={false}
            tickLine={false}
            tickMargin={12}
            tickFormatter={fmtSigned}
            tick={{ fontSize: 13.5, fontFamily: FONT, fill: AXIS_COLOR, textAnchor: "start" }}
          />
          <Area dataKey="value" type="linear" baseValue={0} stroke="none" fill="#63656b" fillOpacity={1} dot={false} activeDot={false} isAnimationActive={false} />
          <ReferenceLine y={0} stroke="#f0f0f0" strokeWidth={1.5} />
          <Line data={signal} dataKey="value" type="monotone" stroke="#f23645" strokeWidth={1} dot={false} activeDot={false} isAnimationActive={false} />
        </ComposedChart>
      </div>

      {/* scale and time axis borders */}
      <div style={abs(1733, 27, 1, 916, "#4a4a4a")} />
      <div style={abs(10, 908, 1813, 1, "#4a4a4a")} />

      {/* legend */}
      <div style={{ position: "absolute", left: 18, top: 33, fontSize: 11.8, lineHeight: "17px", color: "#b4b6bc", whiteSpace: "nowrap" }}>
        <div>
          BTCUSDT SPOT・1日・Bybit
          {ohlcLabels.map(([name, value]) => (
            <span key={name} style={{ marginLeft: 7 }}>
              {name}
              <b style={{ color: "#e8e8e8" }}>{value}</b>
            </span>
          ))}
        </div>
        {legendRows.map(([name, values, color]) => (
          <div key={name}>
            {name}
            {values.map((value) => (
              <span key={value} style={{ marginLeft: 7, color }}>{value}</span>
            ))}
          </div>
        ))}
      </div>
      <div style={{ position: "absolute", left: 18, top: 673, fontSize: 11.8, lineHeight: "17px", color: "#b4b6bc" }}>MACD (9, 17, close)</div>

      {/* footer */}
      <svg style={{ position: "absolute", left: 12, top: 965 }} width={32} height={18}>
        <path d="M0 1H12V16H6V7H0Z M17 0L23 0L29 1L22 16H15L21 5Z" fill="#e6e6e6" />
        <circle cx={16} cy={4} r={2.6} fill="#e6e6e6" />
      </svg>
      <div style={{ position: "absolute", left: 49, top: 960, fontFamily: "Inter, Roboto, sans-serif", fontWeight: 600, fontSize: 20, lineHeight: "28px", color: "#e6e6e6" }}>TradingView</div>
    </div>
  )
}
